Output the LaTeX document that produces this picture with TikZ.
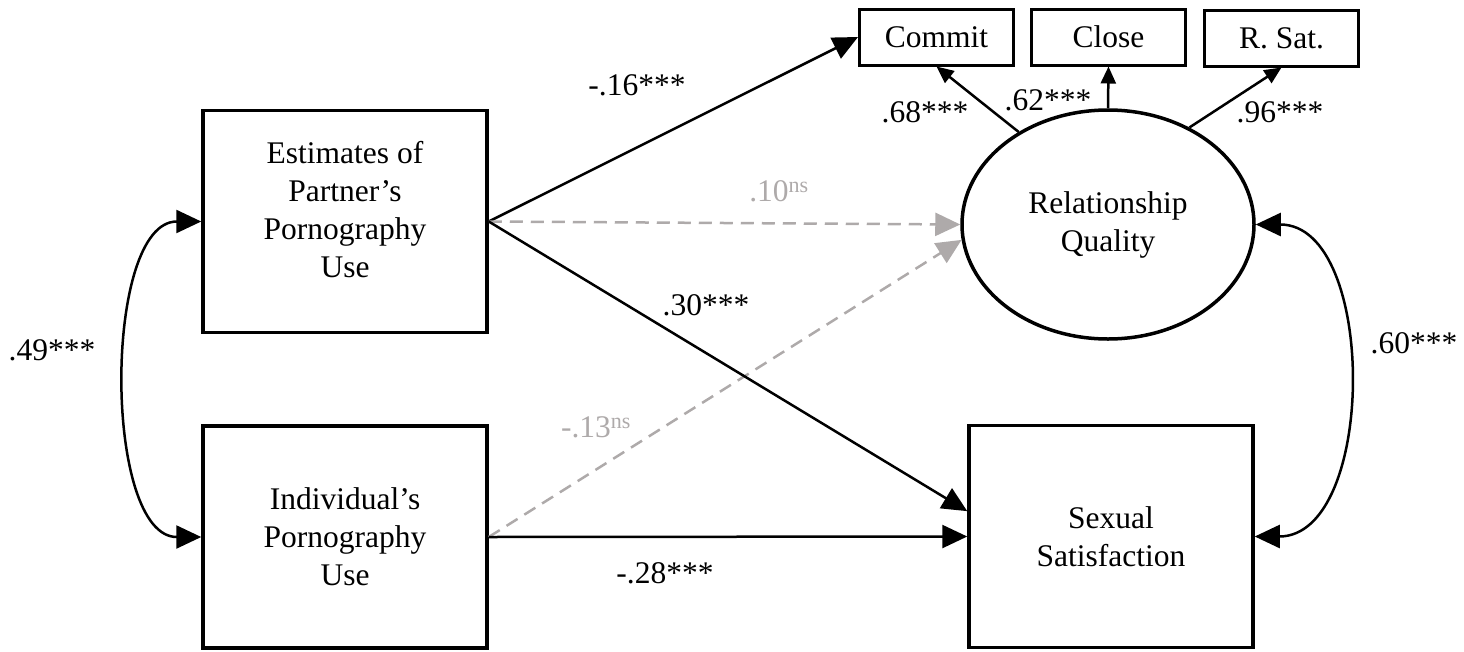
\documentclass[tikz,border=0pt]{standalone}
\usepackage{fontspec}
\setmainfont{Liberation Serif}
\usetikzlibrary{arrows.meta,shapes.geometric}
\definecolor{nsgray}{RGB}{174,170,170}
\tikzset{
	varbox/.style={draw,line width=3.5pt,minimum width=284pt,minimum height=222pt,inner sep=0pt,align=center},
	itembox/.style={draw,line width=3pt,minimum width=154pt,minimum height=56pt,inner sep=0pt},
	latent/.style={draw,ellipse,line width=3.5pt,minimum width=292pt,minimum height=229pt,inner sep=0pt,align=center},
	effect/.style={line width=2.5pt,-{Triangle[length=25pt,width=23pt]}},
	nseffect/.style={effect,nsgray,dash pattern=on 13pt off 8pt},
	loading/.style={line width=2.5pt,-{Triangle[length=17pt,width=15pt]}},
	covar/.style={line width=2.5pt,{Triangle[length=25pt,width=23pt]}-{Triangle[length=25pt,width=23pt]}},
	coef/.style={inner sep=0pt}
}

\begin{document}
\begin{tikzpicture}[x=1pt,y=-1pt,font=\fontsize{31.5}{38}\selectfont]
		\useasboundingbox (0,0) rectangle (1464,651);
		% observed
		\node[varbox] (est) at (345,221.5) {Estimates of\\Partner's\\Pornography\\Use\\[-14pt]\mbox{}};
		\node[varbox] (ind) at (345,537) {Individual's\\Pornography\\Use};
		\node[varbox] (sex) at (1111,536.5) {Sexual\\Satisfaction};
		%% latent and indicators
		\node[latent] (rq) at (1108,224.5) {Relationship\\Quality};
		\node[itembox] (commit) at (936.5,37) {Commit};
		\node[itembox] (close) at (1108.5,37) {Close};
		\node[itembox] (rsat) at (1281.5,38) {R. Sat.};
	
		\draw[loading] (rq.134) -- (commit.south);
		\draw[loading] (rq.north) -- (close.south);
		\draw[loading] (rq.50) -- (rsat.south);
		\node[coef] (c68) at (925,112) {.68***};
		\node[coef] (c62) at (1048,100) {.62***};
		\node[coef] (c96) at (1280,112) {.96***};
	
		%% paths
		\draw[effect] (est.east) -- (commit.west);
		\draw[nseffect] (est.east) -- (rq.west);
		\draw[nseffect] (ind.east) -- (rq.186);
		\draw[effect] (est.east) -- (sex.170);
		\draw[effect] (ind.east) -- (sex.west);
		\node[coef] (c16) at (637,85) {-.16***};
		\node[coef,nsgray] (c10) at (779,191) {.10\textsuperscript{ns}};
		\node[coef] (c30) at (706,305) {.30***};
		\node[coef,nsgray] (c13) at (596,427) {-.13\textsuperscript{ns}};
		\node[coef] (c28) at (665,573) {-.28***};
	
		%% covariances
		\draw[covar] (est.west) to[out=180,in=180,looseness=0.8] (ind.west);
		\draw[covar] (rq.east) to[out=0,in=0] (sex.east);
		\node[coef] (c49) at (52,350) {.49***};
		\node[coef] (c60) at (1414,343) {.60***};
\end{tikzpicture}
\end{document}
